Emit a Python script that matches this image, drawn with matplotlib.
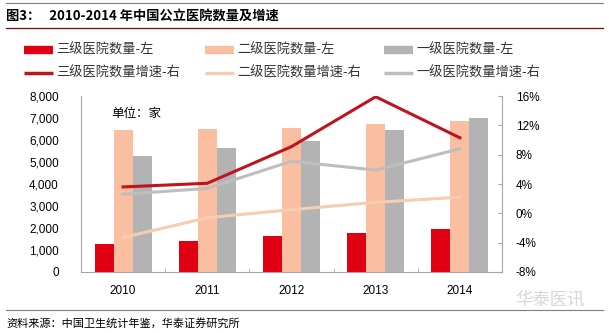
from matplotlib import pyplot as plt
from matplotlib.lines import Line2D
import numpy as np

plt.rcParams['font.family'] = ['Noto Sans CJK SC', 'DejaVu Sans']

years = ['2010', '2011', '2012', '2013', '2014']
# hospital counts (left axis)
lvl3_count = [1280, 1390, 1620, 1790, 1950]
lvl2_count = [6470, 6500, 6560, 6710, 6850]
lvl1_count = [5290, 5620, 5960, 6470, 7000]
# growth rate in % (right axis)
lvl3_growth = [3.6, 4.1, 9.1, 15.9, 10.3]
lvl2_growth = [-3.3, -0.6, 0.5, 1.5, 2.2]
lvl1_growth = [2.6, 3.4, 7.1, 5.9, 8.8]

labels = ['三级医院数量-左', '二级医院数量-左', '一级医院数量-左',
          '三级医院数量增速-右', '二级医院数量增速-右', '一级医院数量增速-右']

c_red = '#E00012'
c_red_line = '#C0141C'
c_peach = '#F9BFA0'
c_peach_line = '#F7CDB2'
c_gray = '#B3B3B3'
c_gray_line = '#BEBEBE'
c_axis = '#A6A6A6'
num_font = ['Liberation Sans', 'Noto Sans CJK SC']

W, H = 609, 333
fig = plt.figure(figsize=(W / 100, H / 100), dpi=100)

def px(x0, y0, x1, y1):
    return [x0 / W, 1 - y1 / H, (x1 - x0) / W, (y1 - y0) / H]

# header / footer lines
fig.add_artist(Line2D([6 / W, 603 / W], [1 - 3 / H, 1 - 3 / H], color='#7F7F7F', lw=0.8))
fig.add_artist(Line2D([6 / W, 603 / W], [1 - 28 / H, 1 - 28 / H], color='#8B0000', lw=0.9))
fig.add_artist(Line2D([6 / W, 603 / W], [1 - 310 / H, 1 - 310 / H], color='#7F7F7F', lw=0.8))

fig.text(6 / W, 1 - 17 / H, '图3：   2010-2014 年中国公立医院数量及增速', fontsize=9.5,
         fontweight='bold', va='center', ha='left', color='black')
fig.text(6 / W, 1 - 323 / H, '资料来源：中国卫生统计年鉴，华泰证券研究所', fontsize=8,
         style='italic', va='center', ha='left', color='black')
fig.text(550 / W, 1 - 299 / H, '华泰医讯', fontsize=12.5, va='center', ha='center',
         color='#D8D8D8')

ax = fig.add_axes(px(81, 96, 502, 272))
x = np.arange(len(years))
bw = 0.225
ax.bar(x - bw, lvl3_count, bw, color=c_red)
ax.bar(x, lvl2_count, bw, color=c_peach)
ax.bar(x + bw, lvl1_count, bw, color=c_gray)
ax.set_xlim(-0.5, len(years) - 0.5)
ax.set_ylim(0, 8000)
ax.set_yticks(range(0, 8001, 1000))
ax.set_yticklabels([f'{v:,}' for v in range(0, 8001, 1000)], family=num_font)
ax.set_xticks(x)
ax.set_xticklabels(years, family=num_font)
ax.set_xticks(np.arange(-0.5, len(years)), minor=True)
ax.tick_params(axis='x', which='major', length=0, pad=9, labelsize=8.5)
ax.tick_params(axis='x', which='minor', length=3, direction='in', color=c_axis)
ax.tick_params(axis='y', length=0, pad=16, labelsize=8.5)
for s in ['top', 'right']:
    ax.spines[s].set_visible(False)
for s in ['left', 'bottom']:
    ax.spines[s].set_color(c_axis)
ax.text(0.16, 7200, '单位：家', fontsize=9, va='center', ha='center')

ax2 = ax.twinx()
ax2.plot(x, lvl3_growth, color=c_red_line, lw=2.2)
ax2.plot(x, lvl2_growth, color=c_peach_line, lw=2.2)
ax2.plot(x, lvl1_growth, color=c_gray_line, lw=2.2)
ax2.set_ylim(-8, 16)
ax2.set_yticks(range(-8, 17, 4))
ax2.set_yticklabels([f'{v}%' for v in range(-8, 17, 4)], family=num_font)
ax2.tick_params(axis='y', length=3, direction='in', color=c_axis, pad=10, labelsize=8.5)
for s in ['top', 'left', 'bottom']:
    ax2.spines[s].set_visible(False)
ax2.spines['right'].set_color(c_axis)

# legend laid out row by row, three columns
leg_colors = [c_red, c_peach, c_gray, c_red_line, c_peach_line, c_gray_line]
leg_widths = [6, 6, 6, 2.5, 2.5, 2.5]
col_x = [24, 205, 384]
row_y = [50, 73]
for i, lab in enumerate(labels):
    cx = col_x[i % 3]
    ry = 1 - row_y[i // 3] / H
    fig.add_artist(Line2D([cx / W, (cx + 29) / W], [ry, ry], color=leg_colors[i],
                          lw=leg_widths[i], solid_capstyle='butt'))
    fig.text((cx + 32) / W, ry, lab, fontsize=9.5, va='center', ha='left', color='#333333')

fig.savefig('out.png', dpi=100)
